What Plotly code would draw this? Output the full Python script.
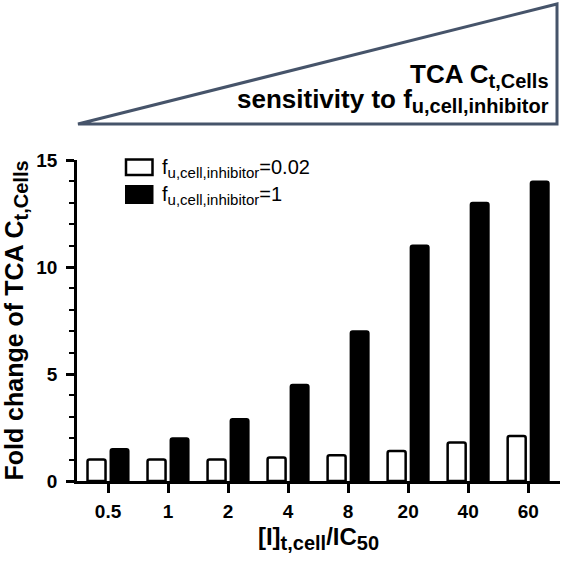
import plotly.graph_objects as go

# ---- data ----
categories = ["0.5", "1", "2", "4", "8", "20", "40", "60"]
fu_low = [1.0, 1.0, 1.0, 1.1, 1.2, 1.4, 1.8, 2.1]
fu_high = [1.5, 2.0, 2.9, 4.5, 7.0, 11.0, 13.0, 14.0]
y_tickvals = [0, 5, 10, 15]


def sub(text, size):
    return f"<sub><span style='font-size:{size}px'>{text}</span></sub>"


series_names = [
    "f" + sub("u,cell,inhibitor", 15) + "=0.02",
    "f" + sub("u,cell,inhibitor", 15) + "=1",
]
x_title = "[I]" + sub("t,cell", 20) + "/IC" + sub("50", 20)
y_title = "Fold change of TCA C" + sub("t,Cells", 20)
wedge_line1 = "TCA C" + sub("t,Cells", 20)
wedge_line2 = "sensitivity to f" + sub("u,cell,inhibitor", 20)

# ---- layout geometry (pixels) ----
W, H = 564, 563
L, R, T, B = 77, 4, 160, 82
PW, PH = W - L - R, H - T - B
FONT = "Liberation Sans, Arial, sans-serif"


def px(x):
    return (x - L) / PW


def py(y):
    return (H - B - y) / PH


fig = go.Figure()
fig.add_trace(go.Bar(
    x=categories, y=fu_low, name="fu=0.02",
    marker=dict(color="white", line=dict(color="black", width=2.5), cornerradius=2),
    showlegend=False,
))
fig.add_trace(go.Bar(
    x=categories, y=fu_high, name="fu=1",
    marker=dict(color="black", line=dict(color="black", width=2), cornerradius=2),
    showlegend=False,
))

shapes = []
# wedge triangle
shapes.append(dict(
    type="path", xref="paper", yref="paper",
    path=f"M {px(78)},{py(124)} L {px(557)},{py(4)} L {px(557)},{py(124)} Z",
    line=dict(color="#46546a", width=3), fillcolor="rgba(0,0,0,0)",
))
# legend swatches
shapes.append(dict(type="rect", xref="paper", yref="paper",
                   x0=px(126), x1=px(152.5), y0=py(175), y1=py(159.5),
                   line=dict(color="black", width=2.5), fillcolor="white"))
shapes.append(dict(type="rect", xref="paper", yref="paper",
                   x0=px(126), x1=px(152.5), y0=py(203), y1=py(186),
                   line=dict(color="black", width=2), fillcolor="black"))

annotations = [
    dict(text=series_names[0], x=px(160), y=py(168), xref="paper", yref="paper",
         xanchor="left", yanchor="middle", showarrow=False,
         font=dict(family=FONT, size=20, color="black")),
    dict(text=series_names[1], x=px(160), y=py(195), xref="paper", yref="paper",
         xanchor="left", yanchor="middle", showarrow=False,
         font=dict(family=FONT, size=20, color="black")),
    dict(text=wedge_line1, x=px(551), y=py(76), xref="paper", yref="paper",
         xanchor="right", yanchor="middle", showarrow=False,
         font=dict(family=FONT, size=26, color="black", weight="bold")),
    dict(text=wedge_line2, x=px(551), y=py(100), xref="paper", yref="paper",
         xanchor="right", yanchor="middle", showarrow=False,
         font=dict(family=FONT, size=26, color="black", weight="bold")),
]

fig.update_layout(
    width=W, height=H,
    margin=dict(l=L, r=R, t=T, b=B, pad=0),
    paper_bgcolor="white", plot_bgcolor="white",
    barmode="group", bargap=0.233, bargroupgap=0.217,
    shapes=shapes, annotations=annotations,
    font=dict(family=FONT, color="black"),
)
fig.update_xaxes(
    type="category", range=[-0.517, 7.53],
    showline=True, linecolor="black", linewidth=2.5,
    ticks="outside", ticklen=9, tickwidth=2.5, tickcolor="black",
    tickfont=dict(family=FONT, size=19, weight="bold"),
    ticklabelstandoff=2,
    showgrid=False, zeroline=False,
    title=dict(text=x_title, font=dict(family=FONT, size=24, weight="bold"), standoff=8),
    automargin=False,
)
fig.update_yaxes(
    range=[0, 15], tickvals=y_tickvals,
    showline=True, linecolor="black", linewidth=2.5,
    ticks="outside", ticklen=8, tickwidth=2.5, tickcolor="black",
    minor=dict(dtick=1, ticks="outside", ticklen=5, tickwidth=2, tickcolor="black"),
    tickfont=dict(family=FONT, size=19, weight="bold"),
    ticklabelstandoff=5,
    showgrid=False, zeroline=False,
    title=dict(text=y_title, font=dict(family=FONT, size=25, weight="bold"), standoff=6),
    automargin=False,
)

fig.write_html(
    "out.html",
    config={"displayModeBar": False},
    post_script="document.body.style.margin='0';",
)
